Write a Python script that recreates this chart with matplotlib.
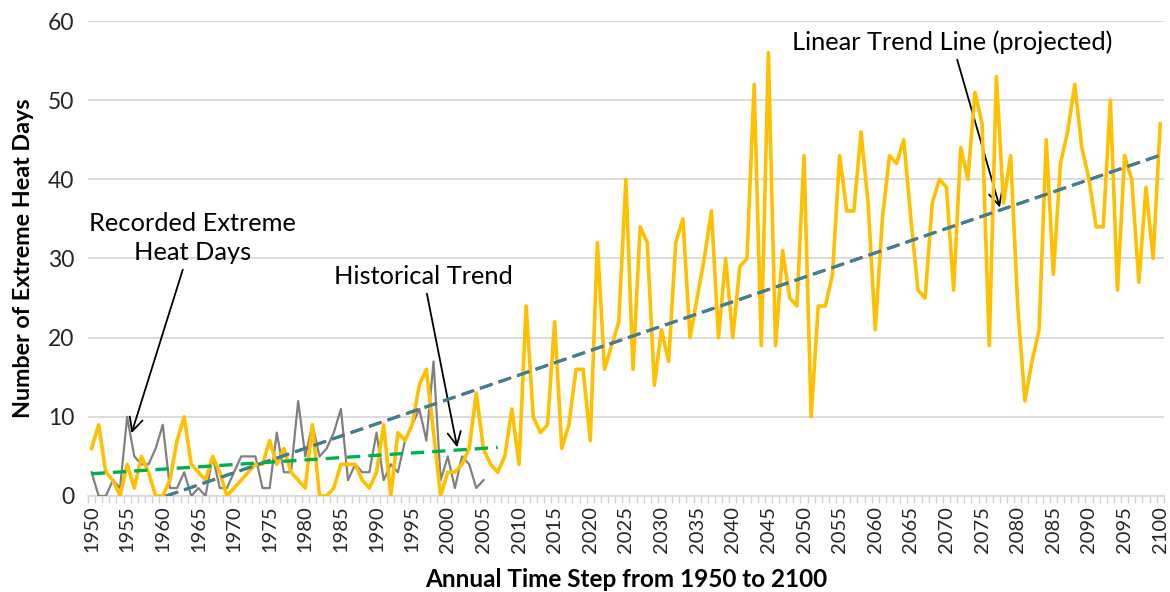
import numpy as np
from matplotlib import pyplot as plt

plt.rcParams['font.family'] = ['Lato', 'DejaVu Sans']

years = np.arange(1950, 2101)

# modelled extreme heat days, 1950-2100
projected = [
    6, 9, 3, 2, 0, 4, 1, 5, 3, 0,
    0, 2, 7, 10, 4, 3, 2, 5, 3, 0,
    1, 2, 3, 4, 4, 7, 4, 6, 3, 2,
    1, 9, 0, 0, 1, 4, 4, 4, 2, 1,
    3, 9, 0, 8, 7, 9, 14, 16, 8, 0,
    3, 3, 4, 6, 13, 6, 4, 3, 5, 11,
    4, 24, 10, 8, 9, 22, 6, 9, 16, 16,
    7, 32, 16, 19, 22, 40, 16, 34, 32, 14,
    21, 17, 32, 35, 20, 25, 30, 36, 20, 30,
    20, 29, 30, 52, 19, 56, 19, 31, 25, 24,
    43, 10, 24, 24, 28, 43, 36, 36, 46, 37,
    21, 35, 43, 42, 45, 35, 26, 25, 37, 40,
    39, 26, 44, 40, 51, 47, 19, 53, 37, 43,
    24, 12, 17, 21, 45, 28, 42, 46, 52, 44,
    40, 34, 34, 50, 26, 43, 40, 27, 39, 30,
    47,
]

# station record, 1950-2005
rec_years = np.arange(1950, 2006)
recorded = [
    3, 0, 0, 2, 1, 10, 5, 4, 4, 6,
    9, 1, 1, 3, 0, 1, 0, 5, 1, 1,
    3, 5, 5, 5, 1, 1, 8, 3, 3, 12,
    5, 9, 5, 6, 8, 11, 2, 4, 3, 3,
    8, 2, 4, 3, 7, 9, 11, 7, 17, 2,
    5, 1, 5, 4, 1, 2,
]

tick_years = np.arange(1950, 2101, 5)

# linear trends
p_hist = np.polyfit(rec_years, recorded, 1)
hist_x = np.arange(1950, 2008)
p_proj = np.polyfit(years, projected, 1)

fig = plt.figure(figsize=(11.7, 5.92), dpi=100)
ax = fig.add_axes([0.0752, 0.1622, 0.9195, 0.8023])

ax.plot(rec_years, recorded, color='#808080', lw=1.6, zorder=3)
ax.plot(years, projected, color='#FFC000', lw=2.6, zorder=4)

ax.plot(years, np.polyval(p_proj, years), color='#C0504D', lw=2.2,
        linestyle=(0, (4.4, 2.0)), zorder=5)
ax.plot(years, np.polyval(p_proj, years), color='#31849B', lw=2.2,
        linestyle=(0, (4, 2.4)), zorder=6)
ax.plot(hist_x, np.polyval(p_hist, hist_x), color='#00B050', lw=2.4,
        linestyle=(0, (4, 2.4)), zorder=6)

ax.set_xlim(1949.5, 2100.5)
ax.set_ylim(0, 60)
ax.set_yticks(range(0, 61, 10))
ax.set_xticks(tick_years)
ax.set_xticklabels([str(y) for y in tick_years], rotation=90)
ax.set_xticks(np.arange(1949.5, 2101, 1), minor=True)
ax.tick_params(axis='x', which='major', length=0, pad=7, labelsize=14.5,
               labelcolor='#262626')
ax.tick_params(axis='x', which='minor', length=5, width=1, color='#D0D0D0')
ax.tick_params(axis='y', length=0, pad=10, labelsize=16.5, labelcolor='#262626')
ax.grid(axis='y', color='#D9D9D9', lw=1.3)
ax.set_axisbelow(True)
for side in ['left', 'right', 'top']:
    ax.spines[side].set_visible(False)
ax.spines['bottom'].set_color('#D9D9D9')
ax.spines['bottom'].set_linewidth(1.3)

ax.set_xlabel('Annual Time Step from 1950 to 2100', fontsize=17.5,
              fontweight='bold', labelpad=11)
ax.set_ylabel('Number of Extreme Heat Days', fontsize=16.8,
              fontweight='bold', labelpad=10)

arrow = dict(arrowstyle='->', color='black', lw=1.3, mutation_scale=24)
ax.annotate('Recorded Extreme\nHeat Days', xy=(1955.5, 7.6), xytext=(1964.2, 32.6),
            ha='center', va='center', fontsize=18.3, linespacing=1.35,
            arrowprops=arrow, annotation_clip=False)
ax.annotate('Historical Trend', xy=(2001.4, 5.8), xytext=(1996.6, 27.7),
            ha='center', va='center', fontsize=18.3,
            arrowprops=arrow, annotation_clip=False)
ax.annotate('Linear Trend Line (projected)', xy=(2077.6, 36.1), xytext=(2070.8, 57.3),
            ha='center', va='center', fontsize=18.3,
            arrowprops=arrow, annotation_clip=False)

fig.savefig('out.png', dpi=100)
plt.close(fig)
